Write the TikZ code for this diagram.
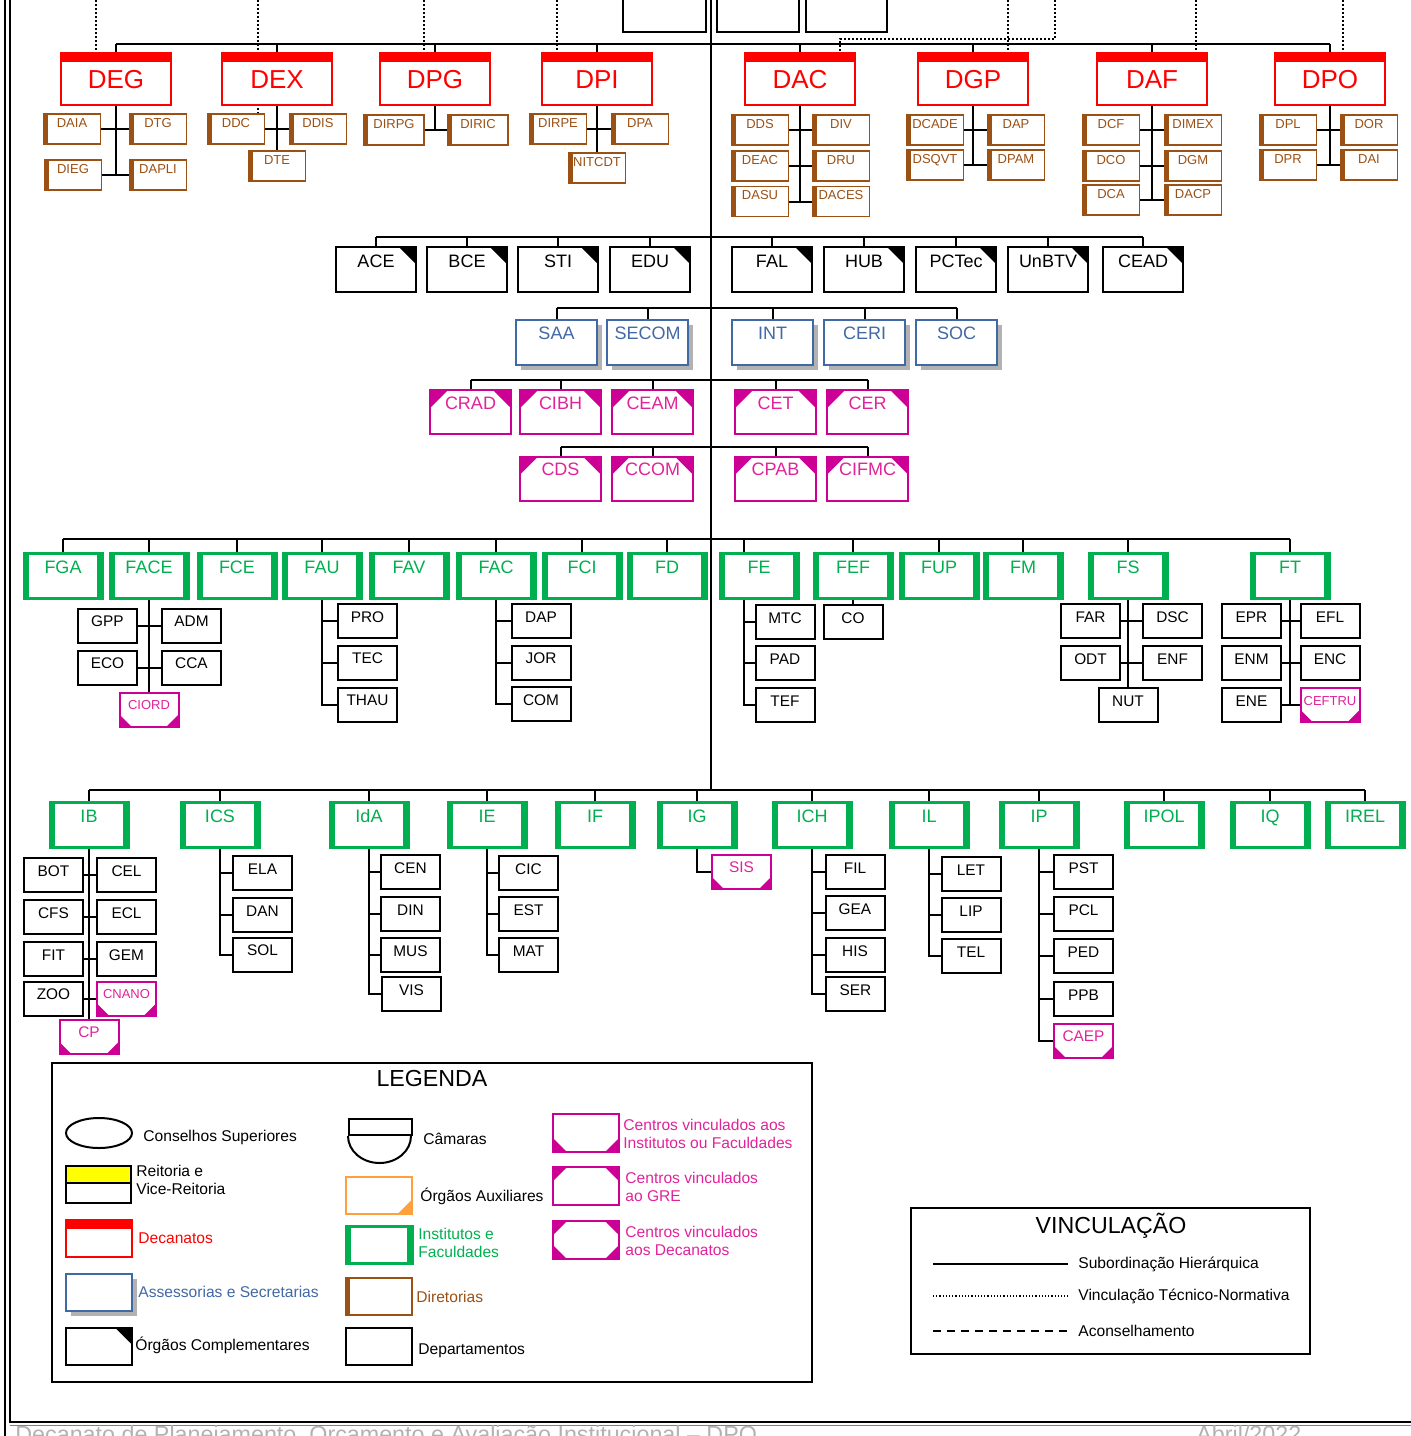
\documentclass[tikz,border=0pt]{standalone}
\usepackage{fontspec}
\setmainfont{Liberation Sans}
\usepackage{tikz}
\usetikzlibrary{shapes.geometric,shadows,backgrounds}
\definecolor{vermelho}{RGB}{255,0,0}
\definecolor{marrom}{RGB}{155,80,20}
\definecolor{azulAss}{RGB}{65,105,165}
\definecolor{magCentro}{RGB}{205,0,150}
\definecolor{magTexto}{RGB}{225,35,155}
\definecolor{verdeFac}{RGB}{0,176,80}
\definecolor{laranja}{RGB}{255,160,60}
\definecolor{amarelo}{RGB}{255,255,0}
\newcommand{\tam}[2]{\fontsize{#1}{#2}\selectfont}

\begin{document}
\begin{tikzpicture}[x=0.5pt,y=-0.5pt,
  hier/.style={line width=1pt},
  tecnorm/.style={densely dotted,line width=1pt},
  acons/.style={dash pattern=on 4pt off 3pt,line width=0.8pt},
  caixa/.style={rectangle,inner sep=0pt,fill=white},
  leg/.style={minimum width=33pt,minimum height=18.5pt,text height=0pt,text depth=0pt},
  decanato/.style={caixa,draw=vermelho,line width=1pt,text=vermelho,
    minimum width=55pt,minimum height=26pt,text height=17.5pt,text depth=8.5pt,
    font=\tam{13pt}{15pt},
    path picture={\fill[vermelho] (path picture bounding box.north west)
      rectangle ([yshift=-4.5pt]path picture bounding box.north east);}},
  diretoria/.style={caixa,draw=marrom,line width=0.8pt,text=marrom,
    minimum width=28.5pt,minimum height=15pt,text height=6.5pt,text depth=8.5pt,
    font=\tam{6.5pt}{8pt},
    path picture={\fill[marrom] (path picture bounding box.south west)
      rectangle ([xshift=2pt]path picture bounding box.north west);}},
  complementar/.style={caixa,draw,line width=1pt,
    minimum width=40pt,minimum height=22.5pt,text height=10pt,text depth=12.5pt,
    font=\tam{9pt}{11pt},
    path picture={\fill[black] (path picture bounding box.north east) -- ++(-8.5pt,0)
      -- ++(8.5pt,-8.5pt) -- cycle;}},
  assessoria/.style={caixa,draw=azulAss,line width=1pt,text=azulAss,
    minimum width=40.5pt,minimum height=22.5pt,text height=9.5pt,text depth=13pt,
    font=\tam{9pt}{11pt},
    general shadow={fill=gray!60,shadow xshift=2.5pt,shadow yshift=-2.5pt}},
  centroGRE/.style={caixa,draw=magCentro,line width=1pt,text=magTexto,
    minimum width=40.5pt,minimum height=22pt,text height=9.5pt,text depth=12.5pt,
    font=\tam{9pt}{11pt},
    path picture={\fill[magCentro] (path picture bounding box.north west) -- ++(#1,0)
      -- ++(-#1,-#1) -- cycle;
      \fill[magCentro] (path picture bounding box.north east) -- ++(-#1,0)
      -- ++(#1,-#1) -- cycle;}},
  centroGRE/.default=9pt,
  centroIF/.style={caixa,draw=magCentro,line width=1pt,text=magTexto,
    minimum width=29.5pt,minimum height=17pt,text height=8.5pt,text depth=8.5pt,
    font=\tam{6.5pt}{8pt},
    path picture={\fill[magCentro] (path picture bounding box.south west) -- ++(#1,0)
      -- ++(-#1,#1) -- cycle;
      \fill[magCentro] (path picture bounding box.south east) -- ++(-#1,0)
      -- ++(#1,#1) -- cycle;}},
  centroIF/.default=6pt,
  centroDec/.style={caixa,draw=magCentro,line width=1pt,
    path picture={\fill[magCentro] (path picture bounding box.south west) -- ++(#1,0)
      -- ++(-#1,#1) -- cycle;
      \fill[magCentro] (path picture bounding box.south east) -- ++(-#1,0)
      -- ++(#1,#1) -- cycle;
      \fill[magCentro] (path picture bounding box.north west) -- ++(#1,0)
      -- ++(-#1,-#1) -- cycle;
      \fill[magCentro] (path picture bounding box.north east) -- ++(-#1,0)
      -- ++(#1,-#1) -- cycle;}},
  centroDec/.default=7pt,
  faculdade/.style={caixa,draw=verdeFac,line width=1.5pt,text=verdeFac,
    minimum width=39pt,minimum height=22.5pt,text height=10pt,text depth=12.5pt,
    font=\tam{9pt}{11pt},
    path picture={\fill[verdeFac] (path picture bounding box.south west)
      rectangle ([xshift=2.5pt]path picture bounding box.north west);
      \fill[verdeFac] (path picture bounding box.south east)
      rectangle ([xshift=-2.5pt]path picture bounding box.north east);}},
  depto/.style={caixa,draw,line width=1pt,
    minimum width=29.5pt,minimum height=17pt,text height=9pt,text depth=8pt,
    font=\tam{7.7pt}{9pt}},
  auxiliar/.style={caixa,draw=laranja,line width=1pt,
    path picture={\fill[laranja] (path picture bounding box.south east) -- ++(-7pt,0)
      -- ++(7pt,7pt) -- cycle;}},
  legtxt/.style={anchor=west,inner sep=0pt,font=\tam{7.8pt}{9.3pt},align=left}]
\useasboundingbox (0,0) rectangle (1411,1436);
\clip (0,0) rectangle (1411,1436);
%% ── Moldura da página ───────────────────────────────────────────────────
\draw[line width=0.8pt] (5,0) -- (5,1436);
\draw[line width=1pt] (10,0) |- (1411,1422);
\draw[gray,line width=0.8pt] (10,1425.5) -- (1411,1425.5);
%% ── Caixas superiores (cortadas pela margem) ───────────────────────────
\node[caixa,draw,line width=1pt,minimum width=41.5pt,minimum height=28.5pt] (topoA) at (664.5,3.5) {};
\node[caixa,draw,line width=1pt,minimum width=41pt,minimum height=28.5pt] (topoB) at (758,3.5) {};
\node[caixa,draw,line width=1pt,minimum width=40.5pt,minimum height=28.5pt] (topoC) at (846.5,3.5) {};
%% ── Decanatos ───────────────────────────────────────────────────────────
\node[decanato] (DEG) at (116,79) {DEG};
\node[decanato] (DEX) at (277,79) {DEX};
\node[decanato] (DPG) at (435,79) {DPG};
\node[decanato] (DPI) at (597,79) {DPI};
\node[decanato] (DAC) at (800,79) {DAC};
\node[decanato] (DGP) at (973,79) {DGP};
\node[decanato] (DAF) at (1152,79) {DAF};
\node[decanato] (DPO) at (1330,79) {DPO};
%% ── Diretorias ──────────────────────────────────────────────────────────
\node[diretoria] (DAIA) at (72,129) {DAIA};
\node[diretoria] (DTG) at (158,129) {DTG};
\node[diretoria] (DIEG) at (73,175) {DIEG};
\node[diretoria] (DAPLI) at (158,175) {DAPLI};
\node[diretoria] (DDC) at (236,129) {DDC};
\node[diretoria] (DDIS) at (318,129) {DDIS};
\node[diretoria] (DTE) at (277,166) {DTE};
\node[diretoria,minimum width=30pt] (DIRPG) at (394,130) {DIRPG};
\node[diretoria,minimum width=30pt] (DIRIC) at (478,130) {DIRIC};
\node[diretoria] (DIRPE) at (558,129) {DIRPE};
\node[diretoria] (DPA) at (640,129) {DPA};
\node[diretoria] (NITCDT) at (597,168) {NITCDT};
\node[diretoria] (DDS) at (760,130) {DDS};
\node[diretoria] (DIV) at (841,130) {DIV};
\node[diretoria] (DEAC) at (760,166) {DEAC};
\node[diretoria] (DRU) at (841,166) {DRU};
\node[diretoria] (DASU) at (760,201.5) {DASU};
\node[diretoria] (DACES) at (841,201.5) {DACES};
\node[diretoria] (DCADE) at (935,130) {DCADE};
\node[diretoria] (DAPdgp) at (1016,130) {DAP};
\node[diretoria] (DSQVT) at (935,165) {DSQVT};
\node[diretoria] (DPAM) at (1016,165) {DPAM};
\node[diretoria] (DCF) at (1111,130) {DCF};
\node[diretoria] (DIMEX) at (1193,130) {DIMEX};
\node[diretoria] (DCO) at (1111,166) {DCO};
\node[diretoria] (DGM) at (1193,166) {DGM};
\node[diretoria] (DCA) at (1111,200) {DCA};
\node[diretoria] (DACP) at (1193,200) {DACP};
\node[diretoria] (DPL) at (1288,130) {DPL};
\node[diretoria] (DOR) at (1369,130) {DOR};
\node[diretoria] (DPR) at (1288,165) {DPR};
\node[diretoria] (DAI) at (1369,165) {DAI};
%% ── Órgãos complementares ───────────────────────────────────────────────
\node[complementar] (ACE) at (376,269.5) {ACE};
\node[complementar] (BCE) at (467,269.5) {BCE};
\node[complementar] (STI) at (558,269.5) {STI};
\node[complementar] (EDU) at (650,269.5) {EDU};
\node[complementar] (FAL) at (772,269.5) {FAL};
\node[complementar] (HUB) at (864,269.5) {HUB};
\node[complementar] (PCTec) at (956,269.5) {PCTec};
\node[complementar] (UnBTV) at (1048,269.5) {UnBTV};
\node[complementar] (CEAD) at (1143,269.5) {CEAD};
%% ── Assessorias e secretarias ───────────────────────────────────────────
\node[assessoria] (SAA) at (556.5,342.5) {SAA};
\node[assessoria] (SECOM) at (647.5,342.5) {SECOM};
\node[assessoria] (INT) at (772.5,342.5) {INT};
\node[assessoria] (CERI) at (864.5,342.5) {CERI};
\node[assessoria] (SOC) at (956.5,342.5) {SOC};
%% ── Centros vinculados ao GRE ───────────────────────────────────────────
\node[centroGRE] (CRAD) at (470.5,412) {CRAD};
\node[centroGRE] (CIBH) at (560.5,412) {CIBH};
\node[centroGRE] (CEAM) at (652.5,412) {CEAM};
\node[centroGRE] (CET) at (775.5,412) {CET};
\node[centroGRE] (CER) at (867.5,412) {CER};
\node[centroGRE] (CDS) at (560.5,478.5) {CDS};
\node[centroGRE] (CCOM) at (652.5,478.5) {CCOM};
\node[centroGRE] (CPAB) at (775.5,478.5) {CPAB};
\node[centroGRE] (CIFMC) at (867.5,478.5) {CIFMC};
%% ── Faculdades ──────────────────────────────────────────────────────────
\node[faculdade] (FGA) at (63,575.5) {FGA};
\node[faculdade] (FACE) at (149,575.5) {FACE};
\node[faculdade] (FCE) at (237,575.5) {FCE};
\node[faculdade] (FAU) at (322,575.5) {FAU};
\node[faculdade] (FAV) at (409,575.5) {FAV};
\node[faculdade] (FAC) at (496,575.5) {FAC};
\node[faculdade] (FCI) at (582,575.5) {FCI};
\node[faculdade] (FD) at (667,575.5) {FD};
\node[faculdade] (FE) at (759,575.5) {FE};
\node[faculdade] (FEF) at (853,575.5) {FEF};
\node[faculdade] (FUP) at (939,575.5) {FUP};
\node[faculdade] (FM) at (1023,575.5) {FM};
\node[faculdade] (FS) at (1128,575.5) {FS};
\node[faculdade] (FT) at (1290,575.5) {FT};
%% ── Departamentos das faculdades ────────────────────────────────────────
\node[depto] (GPP) at (107.5,625.5) {GPP};
\node[depto] (ADM) at (191.5,625.5) {ADM};
\node[depto] (ECO) at (107.5,667.5) {ECO};
\node[depto] (CCA) at (191.5,667.5) {CCA};
\node[centroIF] (CIORD) at (149,709.5) {CIORD};
\node[depto] (PRO) at (367.5,621) {PRO};
\node[depto] (TEC) at (367.5,662.5) {TEC};
\node[depto] (THAU) at (367.5,704.5) {THAU};
\node[depto] (DAP) at (541,621) {DAP};
\node[depto] (JOR) at (541,662.5) {JOR};
\node[depto] (COM) at (541,704) {COM};
\node[depto] (MTC) at (785,622) {MTC};
\node[depto] (PAD) at (785,663) {PAD};
\node[depto] (TEF) at (785,705) {TEF};
\node[depto] (CO) at (853,622) {CO};
\node[depto] (FAR) at (1090.5,621) {FAR};
\node[depto] (DSC) at (1172.5,621) {DSC};
\node[depto] (ODT) at (1090.5,663) {ODT};
\node[depto] (ENF) at (1172.5,663) {ENF};
\node[depto] (NUT) at (1128,705) {NUT};
\node[depto] (EPR) at (1251.5,621) {EPR};
\node[depto] (EFL) at (1330,621) {EFL};
\node[depto] (ENM) at (1251.5,663) {ENM};
\node[depto] (ENC) at (1330,663) {ENC};
\node[depto] (ENE) at (1251.5,705) {ENE};
\node[centroIF] (CEFTRU) at (1330,705) {CEFTRU};
%% ── Institutos ──────────────────────────────────────────────────────────
\node[faculdade] (IB) at (89,825) {IB};
\node[faculdade] (ICS) at (220,825) {ICS};
\node[faculdade] (IdA) at (369,825) {IdA};
\node[faculdade] (IE) at (487,825) {IE};
\node[faculdade] (IF) at (595,825) {IF};
\node[faculdade] (IG) at (697,825) {IG};
\node[faculdade] (ICH) at (812,825) {ICH};
\node[faculdade] (IL) at (929,825) {IL};
\node[faculdade] (IP) at (1039,825) {IP};
\node[faculdade] (IPOL) at (1164,825) {IPOL};
\node[faculdade] (IQ) at (1270,825) {IQ};
\node[faculdade] (IREL) at (1365,825) {IREL};
%% ── Departamentos dos institutos ────────────────────────────────────────
\node[depto] (BOT) at (53.5,875) {BOT};
\node[depto] (CEL) at (126.5,875) {CEL};
\node[depto] (CFS) at (53.5,917) {CFS};
\node[depto] (ECL) at (126.5,917) {ECL};
\node[depto] (FIT) at (53.5,959) {FIT};
\node[depto] (GEM) at (126.5,959) {GEM};
\node[depto] (ZOO) at (53.5,998.5) {ZOO};
\node[centroIF] (CNANO) at (126.5,998.5) {CNANO};
\node[centroIF,font=\tam{7.7pt}{9pt}] (CP) at (89,1037) {CP};
\node[depto] (ELA) at (262.5,873) {ELA};
\node[depto] (DAN) at (262.5,915) {DAN};
\node[depto] (SOL) at (262.5,954.5) {SOL};
\node[depto] (CEN) at (410.5,872) {CEN};
\node[depto] (DIN) at (410.5,914) {DIN};
\node[depto] (MUS) at (410.5,955) {MUS};
\node[depto] (VIS) at (411.5,994) {VIS};
\node[depto] (CIC) at (528.5,873) {CIC};
\node[depto] (EST) at (528.5,914) {EST};
\node[depto] (MAT) at (528.5,955) {MAT};
\node[centroIF,font=\tam{7.7pt}{9pt}] (SIS) at (741.5,872) {SIS};
\node[depto] (FIL) at (855,872) {FIL};
\node[depto] (GEA) at (855,913) {GEA};
\node[depto] (HIS) at (855,955) {HIS};
\node[depto] (SER) at (855.5,994) {SER};
\node[depto] (LET) at (971,874) {LET};
\node[depto] (LIP) at (971,915) {LIP};
\node[depto] (TEL) at (971,956) {TEL};
\node[depto] (PST) at (1083.5,872) {PST};
\node[depto] (PCL) at (1083.5,914) {PCL};
\node[depto] (PED) at (1083.5,956) {PED};
\node[depto] (PPB) at (1083.5,999) {PPB};
\node[centroIF,font=\tam{7.7pt}{9pt}] (CAEP) at (1083.5,1041) {CAEP};
%% ── Barramentos e tronco principal ─────────────────────────────────────
\coordinate (topo) at (711,0);
\coordinate (busDec) at (0,44);
\coordinate (busCompl) at (0,237);
\coordinate (busAss) at (0,308);
\coordinate (busCen1) at (0,380);
\coordinate (busCen2) at (0,447);
\coordinate (busFac) at (0,539);
\coordinate (busInst) at (0,790);
\draw[hier] (topo) -- (topo |- busInst);
\draw[hier] (DEG.north |- busDec) -- (DPO.north |- busDec);
\draw[hier] (ACE.north |- busCompl) -- (CEAD.north |- busCompl);
\draw[hier] (SAA.north |- busAss) -- (SOC.north |- busAss);
\draw[hier] (CRAD.north |- busCen1) -- (CER.north |- busCen1);
\draw[hier] (CDS.north |- busCen2) -- (CIFMC.north |- busCen2);
\draw[hier] (FGA.north |- busFac) -- (FT.north |- busFac);
\draw[hier] (IB.north |- busInst) -- (IREL.north |- busInst);
\foreach \n in {DEG,DEX,DPG,DPI,DAC,DGP,DAF,DPO}
  \draw[hier] (\n.north) -- (\n.north |- busDec);
\foreach \n in {ACE,BCE,STI,EDU,FAL,HUB,PCTec,UnBTV,CEAD}
  \draw[hier] (\n.north) -- (\n.north |- busCompl);
\foreach \n in {SAA,SECOM,INT,CERI,SOC}
  \draw[hier] (\n.north) -- (\n.north |- busAss);
\foreach \n in {CRAD,CIBH,CEAM,CET,CER}
  \draw[hier] (\n.north) -- (\n.north |- busCen1);
\foreach \n in {CDS,CCOM,CPAB,CIFMC}
  \draw[hier] (\n.north) -- (\n.north |- busCen2);
\foreach \n in {FGA,FACE,FCE,FAU,FAV,FAC,FCI,FD,FEF,FUP,FM,FS,FT}
  \draw[hier] (\n.north) -- (\n.north |- busFac);
\foreach \n in {IB,ICS,IdA,IE,IF,IG,ICH,IL,IP,IPOL,IQ,IREL}
  \draw[hier] (\n.north) -- (\n.north |- busInst);
%% ── Ligações às unidades subordinadas ───────────────────────────────────
\foreach \a/\b in {DAIA/DTG,DIEG/DAPLI,DDC/DDIS,DIRPG/DIRIC,DIRPE/DPA,DDS/DIV,
    DEAC/DRU,DASU/DACES,DCADE/DAPdgp,DSQVT/DPAM,DCF/DIMEX,DCO/DGM,DCA/DACP,
    DPL/DOR,DPR/DAI,GPP/ADM,ECO/CCA,FAR/DSC,ODT/ENF,EPR/EFL,ENM/ENC,
    ENE/CEFTRU,BOT/CEL,CFS/ECL,FIT/GEM,ZOO/CNANO}
  \draw[hier] (\a.east) -- (\b.west);
\foreach \p/\u in {DEG/DIEG,DPG/DIRPG,DAC/DASU,DGP/DSQVT,DAF/DCA,DPO/DPR,FT/ENE}
  \draw[hier] (\p.south) -- (\p.south |- \u.east);
\foreach \p/\u in {DEX/DTE,DPI/NITCDT,FACE/CIORD,FEF/CO,FS/NUT,IB/CP}
  \draw[hier] (\p.south) -- (\p.south |- \u.north);
\foreach \p/\u in {FAU/THAU,FAC/COM,ICS/SOL,IdA/VIS,IE/MAT,IG/SIS,ICH/SER,IL/TEL,IP/CAEP}
  \draw[hier] (\p.south) |- (\u.west);
\foreach \p/\u in {FAU/PRO,FAU/TEC,FAC/DAP,FAC/JOR,ICS/ELA,ICS/DAN,IdA/CEN,IdA/DIN,
    IdA/MUS,IE/CIC,IE/EST,ICH/FIL,ICH/GEA,ICH/HIS,IL/LET,IL/LIP,IP/PST,IP/PCL,
    IP/PED,IP/PPB}
  \draw[hier] (\p.south |- \u.west) -- (\u.west);
%% FE: eixo deslocado para a esquerda
\coordinate (FEeixo) at ([xshift=-7.5pt]FE.south);
\draw[hier] ([xshift=-7.5pt]FE.north) -- ([xshift=-7.5pt]FE.north |- busFac);
\draw[hier] (FEeixo) |- (TEF.west);
\foreach \u in {MTC,PAD}
  \draw[hier] (FEeixo |- \u.west) -- (\u.west);
%% ── Vinculação técnico-normativa (pontilhado) ──────────────────────────
\begin{scope}[on background layer]
\coordinate (vDEG) at (96,0);
\coordinate (vDEX) at (258,0);
\coordinate (vDPG) at (424,0);
\coordinate (vDPI) at (557,0);
\coordinate (vDAC) at (1055,0);
\coordinate (vDGP) at (1008,0);
\coordinate (vDAF) at (1196,0);
\coordinate (vDPO) at (1343,0);
\draw[tecnorm] (vDEG) -- (vDEG |- DEG.north);
\draw[tecnorm] (vDEX) -- (vDEX |- DDC.north);
\draw[tecnorm] (vDPG) -- (vDPG |- DPG.north);
\draw[tecnorm] (vDPI) -- (vDPI |- DPI.north);
\draw[tecnorm] (vDAC) -- ++(0,39) -| ([xshift=20pt]DAC.north);
\draw[tecnorm] (vDGP) -- (vDGP |- DGP.north);
\draw[tecnorm] (vDAF) -- (vDAF |- DAF.north);
\draw[tecnorm] (vDPO) -- (vDPO |- DPO.north);
\end{scope}
%% ── Legenda ─────────────────────────────────────────────────────────────
\draw[line width=1pt] (52,1063) rectangle (812,1382);
\node[font=\tam{11.6pt}{14pt}] (legenda) at (432,1078) {LEGENDA};
\node[ellipse,draw,line width=1pt,minimum width=33pt,minimum height=15pt,inner sep=0pt] (lgCons) at (99,1133) {};
\node[caixa,draw,line width=1pt,minimum width=32.5pt,minimum height=18.5pt,
  path picture={\fill[amarelo] (path picture bounding box.north west)
    rectangle ([yshift=-8.5pt]path picture bounding box.north east);
    \draw[line width=1pt] ([yshift=-8.5pt]path picture bounding box.north west)
    -- ([yshift=-8.5pt]path picture bounding box.north east);}] (lgReit) at (98.5,1184.5) {};
\node[decanato,leg] (lgDec) at (98.5,1238.5) {};
\node[assessoria,leg] (lgAss) at (99,1292.5) {};
\node[complementar,leg] (lgCompl) at (99,1346) {};
\node[caixa,draw,line width=1pt,minimum width=31.5pt,minimum height=8pt] (lgCam) at (380.5,1127) {};
\draw[line width=1pt] (lgCam.south west) arc[start angle=180,end angle=360,x radius=15.75pt,y radius=13.5pt];
\node[auxiliar,leg] (lgAux) at (379,1195) {};
\node[faculdade,leg] (lgFac) at (379,1245) {};
\node[diretoria,leg] (lgDir) at (379,1296.5) {};
\node[depto,leg] (lgDep) at (379,1346) {};
\node[centroIF=7pt,leg,minimum height=19pt] (lgCIF) at (586,1133) {};
\node[centroGRE=7pt,leg,minimum height=19pt] (lgCGRE) at (586,1186) {};
\node[centroDec,leg,minimum height=19pt] (lgCDec) at (586,1240) {};
\node[legtxt] (tCons) at (143,1137) {Conselhos Superiores};
\node[legtxt] (tReit) at (136,1180) {Reitoria e\\Vice-Reitoria};
\node[legtxt,text=vermelho] (tDec) at (138,1238) {Decanatos};
\node[legtxt,text=azulAss] (tAss) at (138,1292) {Assessorias e Secretarias};
\node[legtxt] (tCompl) at (135,1345) {Órgãos Complementares};
\node[legtxt] (tCam) at (423,1139) {Câmaras};
\node[legtxt] (tAux) at (420,1196) {Órgãos Auxiliares};
\node[legtxt,text=verdeFac] (tFac) at (418,1243) {Institutos e\\Faculdades};
\node[legtxt,text=marrom] (tDir) at (416,1297) {Diretorias};
\node[legtxt] (tDep) at (418,1351) {Departamentos};
\node[legtxt,text=magTexto] (tCIF) at (623,1134) {Centros vinculados aos\\Institutos ou Faculdades};
\node[legtxt,text=magTexto] (tCGRE) at (625,1187) {Centros vinculados\\ao GRE};
\node[legtxt,text=magTexto] (tCDec) at (625,1241) {Centros vinculados\\aos Decanatos};
%% ── Vinculação ──────────────────────────────────────────────────────────
\draw[line width=1pt] (911,1208) rectangle (1310,1354);
\node[font=\tam{11.6pt}{14pt}] (vinc) at (1111,1226) {VINCULAÇÃO};
\node[legtxt] (vSub) at (1078,1264) {Subordinação Hierárquica};
\node[legtxt] (vTec) at (1078,1296) {Vinculação Técnico-Normativa};
\node[legtxt] (vAco) at (1078,1331) {Aconselhamento};
\coordinate (lSub) at (933,1264);
\coordinate (lTec) at (933,1296);
\coordinate (lAco) at (933,1331);
\draw[hier] (lSub) -- ([xshift=-5pt]vSub.west);
\draw[densely dotted,line width=0.6pt] (lTec) -- ([xshift=-5pt]vTec.west);
\draw[acons] (lAco) -- ([xshift=-5pt]vAco.west);
%% ── Rodapé (cortado pela margem, como no original) ─────────────────────
\node[anchor=base west,inner sep=0pt,text=gray!60,font=\tam{11.65pt}{14pt}] (rodape) at (15,1442)
  {Decanato de Planejamento, Orçamento e Avaliação Institucional – DPO};
\node[anchor=base west,inner sep=0pt,text=gray!60,font=\tam{11.65pt}{14pt}] (data) at (1196,1442) {Abril/2022};
\end{tikzpicture}
\end{document}
